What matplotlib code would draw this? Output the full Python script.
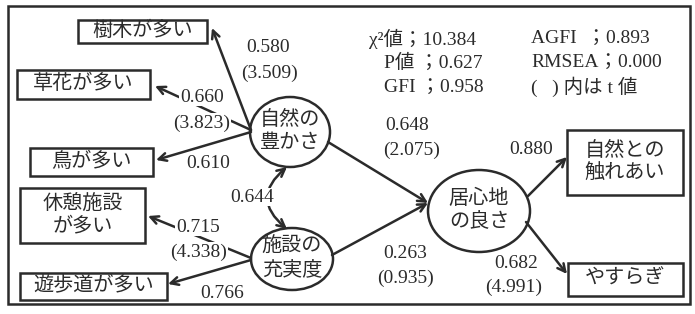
import matplotlib.pyplot as plt
from matplotlib.patches import Ellipse, Rectangle, FancyArrowPatch

plt.rcParams['font.family'] = ['Liberation Serif', 'Noto Sans CJK JP']

# observed variables and their loadings / t values
obs_names = ['樹木が多い', '草花が多い', '鳥が多い', '休憩施設\nが多い', '遊歩道が多い',
             '自然との\n触れあい', 'やすらぎ']
loadings = [0.580, 0.660, 0.610, 0.715, 0.766, 0.880, 0.682]
t_values = [3.509, 3.823, None, 4.338, None, None, 4.991]

# latent variables and structural paths
latent_names = ['自然の\n豊かさ', '施設の\n充実度', '居心地\nの良さ']
path_coef = [0.648, 0.263]
path_t = [2.075, 0.935]
correlation = 0.644

# fit indices
chi2 = 10.384
p_value = 0.627
gfi = 0.958
agfi = 0.893
rmsea = 0.000

INK = '#2b2b2b'

fig = plt.figure(figsize=(6.95, 3.14), dpi=100)
ax = fig.add_axes([0, 0, 1, 1])
ax.set_xlim(0, 695)
ax.set_ylim(314, 0)
ax.axis('off')

# outer frame
ax.add_patch(Rectangle((8, 6), 682, 298, fill=False, lw=1.8, ec=INK))

# observed boxes: (x0, y0, x1, y1)
boxes = [(78, 20, 207, 43), (17, 70, 150, 99), (30, 148, 153, 176),
         (20, 188, 145, 243), (20, 273, 167, 300), (567, 130, 683, 195),
         (568, 263, 683, 296)]
for (x0, y0, x1, y1), name in zip(boxes, obs_names):
    ax.add_patch(Rectangle((x0, y0), x1 - x0, y1 - y0, fill=False, lw=1.8, ec=INK, zorder=3))
    ax.text((x0 + x1) / 2, (y0 + y1) / 2, name, ha='center', va='center',
            fontsize=14.5, color=INK, linespacing=1.25, zorder=4)

# latent ellipses: (cx, cy, w, h)
ellipses = [(290, 132, 80, 70), (292, 259, 82, 62), (479, 211, 102, 82)]
for (cx, cy, w, h), name in zip(ellipses, latent_names):
    ax.add_patch(Ellipse((cx, cy), w, h, fill=False, lw=1.8, ec=INK, zorder=3))
    ax.text(cx, cy, name, ha='center', va='center', fontsize=14.5, color=INK,
            linespacing=1.25, zorder=4)


def arrow(start, end, style='->', conn='arc3'):
    ax.add_patch(FancyArrowPatch(start, end, arrowstyle=style, connectionstyle=conn,
                                 mutation_scale=14, lw=1.8, color=INK,
                                 shrinkA=0, shrinkB=0, zorder=1))


# measurement arrows
arrow_pts = [((251, 130), (212, 28)), ((251, 130), (155, 86)), ((251, 132), (156, 160)),
             ((251, 258), (148, 216)), ((251, 260), (168, 284)),
             ((528, 196), (567, 157)), ((526, 222), (567, 274))]
for s, e in arrow_pts:
    arrow(s, e)

# structural arrows
arrow((328, 142), (428, 203))
arrow((332, 255), (428, 203))
# correlation between latent factors
arrow((287, 229), (287, 167), style='<->', conn='arc3,rad=-0.6')


def label(x, y, s):
    ax.text(x, y, s, ha='center', va='center', fontsize=14, color=INK, zorder=2,
            bbox=dict(boxstyle='square,pad=0.05', fc='white', ec='none'))


# loading labels: (x, y of coef), (x, y of t)
lab_pos = [((268, 48), (270, 73)), ((202, 97), (202, 123)), ((208, 164), None),
           ((198, 227), (199, 252)), ((222, 293), None), ((531, 150), None),
           ((516, 263), (514, 287))]
for (cpos, tpos), v, t in zip(lab_pos, loadings, t_values):
    label(cpos[0], cpos[1], f'{v:.3f}')
    if t is not None and tpos is not None:
        label(tpos[0], tpos[1], f'({t:.3f})')

label(407, 125, f'{path_coef[0]:.3f}')
label(412, 150, f'({path_t[0]:.3f})')
label(405, 253, f'{path_coef[1]:.3f}')
label(405, 278, f'({path_t[1]:.3f})')
label(252, 197, f'{correlation:.3f}')

# fit statistics
fs = 14
ax.text(369, 39, f'χ²値；{chi2:.3f}', ha='left', va='center', fontsize=fs, color=INK)
ax.text(384, 63, f'P値 ；{p_value:.3f}', ha='left', va='center', fontsize=fs, color=INK)
ax.text(384, 88, f'GFI ；{gfi:.3f}', ha='left', va='center', fontsize=fs, color=INK)
ax.text(531, 39, f'AGFI  ；{agfi:.3f}', ha='left', va='center', fontsize=fs, color=INK)
ax.text(531, 63, f'RMSEA；{rmsea:.3f}', ha='left', va='center', fontsize=fs, color=INK)
ax.text(531, 87, '(   ) 内は t 値', ha='left', va='center', fontsize=fs, color=INK)

fig.savefig('out.png', dpi=100, facecolor='white')
